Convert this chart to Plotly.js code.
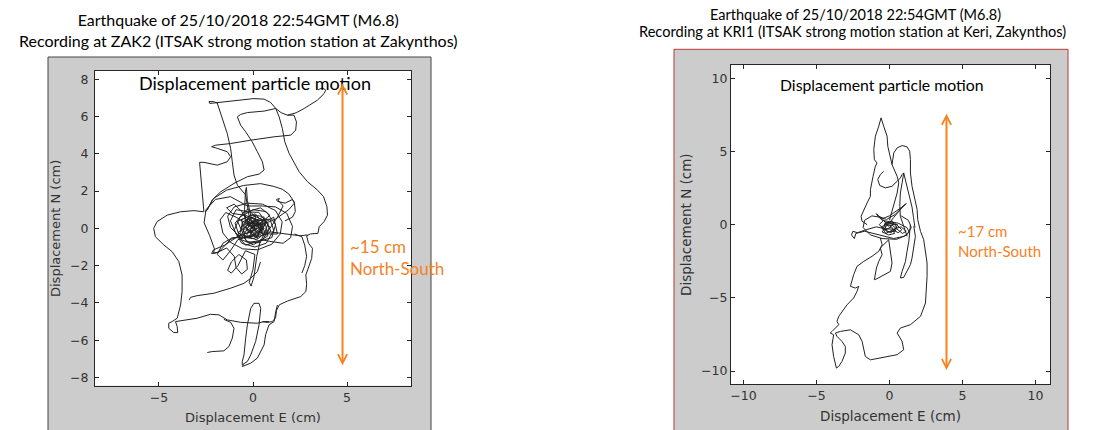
<!DOCTYPE html>
<html><head><meta charset="utf-8">
<script src="https://cdn.plot.ly/plotly-3.0.1.min.js"></script>
<style>html,body{margin:0;padding:0;background:#fff}#chart{width:1101px;height:430px}</style>
</head><body><div id="chart"></div>
<script>
// ---------- Titles / labels ----------
const leftTitle1 = "Earthquake of 25/10/2018 22:54GMT (M6.8)";
const leftTitle2 = "Recording at ZAK2 (ITSAK strong motion station at Zakynthos)";
const rightTitle1 = "Earthquake of 25/10/2018 22:54GMT (M6.8)";
const rightTitle2 = "Recording at KRI1 (ITSAK strong motion station at Keri, Zakynthos)";
const innerLabel = "Displacement particle motion";
const xLabel = "Displacement E (cm)";
const yLabel = "Displacement N (cm)";
const zakSpanText = ["~15 cm", "North-South"];
const kriSpanText = ["~17 cm", "North-South"];

// ---------- Ticks ----------
const zakXTicks = [-5, 0, 5];
const zakYTicks = [-8, -6, -4, -2, 0, 2, 4, 6, 8];
const kriXTicks = [-10, -5, 0, 5, 10];
const kriYTicks = [-10, -5, 0, 5, 10];

// ---------- North-South span arrows (E, N_top, N_bottom) ----------
const zakArrow = [4.76, 7.77, -7.42];
const kriArrow = [3.91, 7.57, -10.03];

// ---------- ZAK2 displacement path strokes [E, N] (cm) ----------
const zakCore = [[0.0,0.0],[0.35,0.42],[-0.18,0.62],[-0.52,0.12],[0.22,-0.41],[0.63,0.18],[0.12,0.78],[-0.61,0.47],[-0.43,-0.52],[0.41,-0.33],[0.72,0.51],[-0.08,0.31],[-0.79,-0.21],[-0.22,-0.76],[0.52,-0.62],[0.88,0.08],[0.31,0.86],[-0.47,0.88],[-0.95,0.28],[-0.68,-0.58],[0.02,-0.88],[0.79,-0.41],[0.58,0.62],[-0.31,0.22],[0.18,-0.19],[-0.12,0.48],[0.42,0.09],[-0.33,-0.29],[0.09,0.21],[0.49,-0.12],[-0.58,0.79],[-0.25,1.05],[0.15,0.55],[-0.38,-0.08],[0.28,-0.55],[0.66,-0.21],[0.25,0.33],[-0.21,-0.45],[-0.65,0.02],[-0.15,0.72],[0.45,0.65],[0.81,0.25],[0.38,-0.78],[-0.35,-0.71],[-0.82,0.38],[-0.44,0.55],[0.05,0.12],[0.55,0.38],[0.2,-0.62],[-0.5,-0.35],[-0.05,0.38],[0.35,0.05],[-0.15,-0.15],[0.12,0.45],[0.6,-0.45],[0.95,-0.15],[0.7,0.35],[0.1,0.65],[-0.55,0.35],[-0.7,-0.3],[-0.25,-0.5],[0.3,-0.25],[0.45,0.3],[-0.1,0.1]];
const zakCore2 = [[0.2,0.1],[0.9,0.7],[0.4,1.1],[-0.3,0.9],[-0.9,1.0],[-1.2,0.4],[-0.9,-0.3],[-0.4,-0.9],[0.3,-0.7],[1.0,-0.5],[1.2,0.2],[0.7,0.9],[0.0,1.0],[-0.7,0.6],[-1.0,-0.1],[-0.6,-0.8],[0.1,-1.0],[0.7,-0.8],[1.1,-0.1],[0.9,0.5],[0.3,0.4],[-0.4,0.7],[-1.1,0.8],[-1.4,1.1],[-1.0,1.3],[-0.6,0.9],[-0.2,0.2],[0.5,-0.3],[1.3,-0.3],[1.1,0.6],[0.6,0.3],[0.1,-0.3],[-0.5,-0.5],[-1.1,-0.5],[-1.6,-0.8],[-1.9,-1.4],[-1.6,-1.7],[-1.2,-1.2],[-0.8,-0.6],[-0.1,-0.4],[0.6,0.0],[0.25,0.25],[-0.3,-0.1],[0.15,-0.5],[0.55,0.15],[-0.05,0.55],[-0.45,0.15],[-0.1,-0.25],[0.3,0.2],[-0.2,0.35],[0.05,-0.1]];
const zakLoops = [[-0.1,0.1],[-0.9,0.6],[-1.45,0.85],[-1.75,0.45],[-1.6,-0.25],[-1.2,-0.75],[-0.55,-1.1],[0.25,-1.15],[1.0,-0.85],[1.45,-0.3],[1.55,0.35],[1.2,0.95],[0.5,1.3],[-0.3,1.35],[-1.0,1.15],[-1.35,0.65],[-1.2,0.05],[-0.7,-0.45],[0.0,-0.55],[0.7,-0.3],[1.3,0.6],[1.6,1.2],[1.35,1.5],[1.4,1.6],[1.25,1.55],[1.3,1.45],[1.7,1.35],[2.1,1.55],[2.2,1.35],[1.9,1.0],[1.2,0.5],[0.5,0.2],[-0.4,0.3],[-0.45,1.0],[-0.4,2.0],[-0.35,2.2],[-0.3,1.5],[-0.1,0.6],[-0.6,-0.3],[-1.5,-0.9],[-2.1,-1.15],[-2.2,-1.35],[-1.9,-1.3],[-1.4,-1.05],[-1.0,-1.5],[-0.9,-2.1],[-0.6,-2.45],[-0.3,-2.2],[-0.35,-1.7],[-0.75,-1.4],[-1.15,-1.8],[-1.35,-2.25],[-1.15,-2.4],[-0.8,-2.0],[-0.4,-1.2],[0.1,-1.4],[0.0,-2.2],[-0.2,-2.9],[-0.1,-3.1],[0.05,-2.6],[0.2,-1.5],[0.4,-0.6],[0.9,-0.7],[1.6,-0.8],[2.0,-0.5],[2.1,0.1],[1.8,0.8],[1.2,1.15],[0.5,1.2],[-0.3,1.2],[-1.2,1.7],[-2.0,1.55],[-2.5,1.0],[-2.6,0.3],[-2.3,-0.4],[-2.05,-1.1],[-2.1,-1.35],[-1.8,-1.25],[-1.2,-0.6],[-0.2,-0.2],[1.0,-0.2],[1.8,-0.3],[2.5,-0.4],[2.9,-0.35]];
const zakRing = [[-2.5,0.9],[-2.1,1.6],[-1.4,2.05],[-0.5,2.3],[0.4,2.4],[1.1,2.25],[1.55,2.1],[1.9,1.85],[2.2,1.4],[2.25,0.9],[2.1,0.6],[1.7,0.4]];
const zakTop = [[-0.2,0.6],[-0.39,1.79],[-0.83,2.32],[-1.01,2.86],[-1.10,3.57],[-1.19,4.29],[-1.37,5.09],[-1.63,5.89],[-1.81,6.52],[-1.90,6.72],[-2.10,6.80],[-2.34,6.80],[-2.30,6.70],[-2.00,6.73],[-1.37,6.79],[-0.66,6.88],[0.05,6.96],[0.59,6.93],[0.94,6.75],[1.21,6.43],[1.50,6.20],[1.83,6.07],[2.30,6.20],[2.72,6.43],[3.10,6.65],[3.43,6.88],[3.78,7.23],[3.87,7.41],[3.69,7.54],[3.46,7.43]];
const zakRight = [[1.21,6.43],[1.39,5.98],[1.56,5.36],[1.69,4.64],[1.92,4.02],[2.18,3.57],[2.45,3.04],[2.90,2.50],[3.43,2.05],[3.75,1.70],[3.93,1.16],[3.96,0.71],[3.78,0.36],[3.52,0.09],[3.45,-0.27],[3.05,-0.30],[2.85,-0.40],[2.95,-0.80],[3.16,-1.07],[3.12,-1.61],[2.95,-2.10],[2.81,-2.50],[2.85,-3.00],[2.81,-3.39],[2.54,-3.66],[2.10,-3.80],[1.83,-3.90],[1.40,-4.10],[1.25,-4.40],[1.20,-4.80],[1.03,-5.00],[0.76,-5.05],[0.50,-5.00]];
const zakRight2 = [[2.2,-0.3],[2.6,-0.45],[2.75,-0.9],[2.85,-1.5],[2.75,-2.0],[2.6,-2.4]];
const zakLeft = [[-2.61,0.89],[-3.14,0.95],[-3.85,0.89],[-4.56,0.71],[-5.10,0.36],[-5.28,0.00],[-5.19,-0.45],[-4.74,-0.89],[-4.30,-1.25],[-3.94,-1.79],[-3.77,-2.50],[-3.77,-3.39],[-3.85,-4.11],[-4.03,-4.82],[-4.30,-5.00],[-4.48,-5.09],[-4.48,-5.36],[-4.21,-5.59],[-4.00,-5.59],[-4.03,-5.27],[-4.12,-5.00],[-3.85,-4.95],[-2.97,-4.82],[-2.26,-4.61],[-1.81,-4.64],[-1.37,-4.91],[-0.66,-5.04],[0.23,-5.09],[0.59,-5.00],[0.85,-5.00]];
const zakWedge = [[-1.55,-4.88],[-1.19,-5.04],[-1.01,-5.36],[-1.10,-5.89],[-1.28,-6.34],[-1.55,-6.57],[-2.17,-6.61],[-2.43,-6.66]];
const zakBottom = [[0.05,-4.02],[0.32,-4.02],[0.41,-4.29],[0.32,-5.18],[0.14,-6.07],[-0.12,-6.79],[-0.30,-7.14],[-0.57,-7.32],[-0.57,-7.14],[-0.48,-6.79],[-0.39,-5.89],[-0.30,-5.18],[-0.12,-4.29],[0.05,-4.02]];
const zakBottom2 = [[1.30,-4.11],[1.21,-4.46],[1.12,-5.00],[0.85,-5.18],[0.67,-5.71],[0.59,-6.25],[0.23,-6.96],[-0.12,-7.23],[-0.57,-7.41],[-0.50,-7.30]];
const zakMid = [[-3.40,-3.85],[-3.32,-3.70],[-2.97,-3.61],[-2.08,-3.48],[-1.19,-3.21],[-0.48,-2.95],[-0.12,-2.68],[0.23,-2.32],[0.40,-1.80]];
const zakS = [[1.83,6.07],[2.18,6.07],[2.31,5.71],[2.27,5.27],[2.01,5.00],[1.12,4.91],[-0.12,4.73],[-1.19,4.55],[-1.99,4.46],[-2.20,4.38],[-1.90,4.29],[-1.37,4.11],[-1.19,3.84],[-1.37,3.57],[-1.90,3.39],[-2.61,3.54],[-2.84,3.54],[-2.79,2.86],[-2.70,1.79],[-2.61,0.89]];
const zakPi = [[1.21,6.43],[0.59,6.29],[-0.30,6.21],[-0.66,6.11],[-0.83,5.98],[-0.66,5.54],[-0.39,5.18],[-0.04,4.64],[0.23,4.11],[0.50,3.57],[0.59,3.13],[0.32,2.91],[-0.30,2.77],[-1.01,2.41],[-1.72,1.96],[-2.17,1.52],[-2.43,0.98]];
const zakStrokes = [zakCore, zakCore2, zakLoops, zakRing, zakTop, zakRight, zakRight2, zakLeft, zakWedge, zakBottom, zakBottom2, zakMid, zakS, zakPi];

// ---------- KRI1 displacement path strokes [E, N] (cm) ----------
const kriCore = [[0.0,-0.2],[0.3,0.1],[-0.2,0.15],[-0.45,-0.3],[0.1,-0.55],[0.5,-0.2],[0.2,0.25],[-0.35,0.05],[-0.15,-0.5],[0.4,-0.45],[0.55,0.0],[-0.05,0.1],[-0.55,-0.15],[-0.25,-0.6],[0.25,-0.35],[0.6,-0.55],[0.85,-0.35],[0.45,0.05],[-0.1,-0.1],[-0.4,0.3],[-0.7,0.0],[-0.3,-0.35],[0.15,-0.15],[0.35,-0.6],[-0.05,-0.7],[-0.5,-0.5],[-0.15,0.0],[0.2,-0.05],[0.9,-0.6],[1.15,-0.45],[0.8,-0.15],[0.3,-0.3],[-0.2,-0.3]];
const kriLoops = [[-0.2,-0.3],[-0.9,-0.15],[-1.6,-0.35],[-2.2,-0.55],[-2.5,-0.45],[-2.6,-0.7],[-2.4,-0.95],[-2.3,-0.6],[-1.7,-0.45],[-1.1,-0.6],[-0.5,-0.8],[0.3,-0.95],[1.0,-0.8],[1.35,-0.5],[1.2,-0.2],[0.6,0.1],[0.0,0.2],[-0.5,0.3],[-0.8,0.6],[-0.9,0.75],[-0.7,0.55],[-0.2,0.35],[0.4,0.7],[1.1,1.35],[1.15,1.45],[0.9,1.2],[0.3,0.5],[-0.1,0.0],[-0.6,0.5],[-1.2,0.6],[-1.7,0.3],[-1.8,-0.2],[-1.3,-0.7],[-0.5,-0.95],[0.5,-1.0],[1.2,-0.7],[1.5,-0.2],[1.3,0.3],[0.8,0.6]];
const kriSpike = [[-1.53,0.00],[-1.87,0.23],[-1.94,0.57],[-1.76,1.03],[-1.53,1.48],[-1.30,1.94],[-1.30,2.39],[-1.12,3.30],[-0.96,3.99],[-0.85,4.21],[-1.03,4.44],[-1.07,5.13],[-0.96,6.04],[-0.73,6.72],[-0.57,7.29],[-0.39,6.72],[-0.16,6.04],[-0.11,5.35],[0.07,4.67],[0.18,4.10],[0.53,3.30],[0.64,2.85],[0.53,2.16],[0.41,1.71],[0.20,1.00],[0.00,0.30]];
const kriOuter = [[0.18,4.10],[0.25,4.50],[0.30,4.90],[0.53,5.24],[0.87,5.40],[1.21,5.31],[1.39,5.01],[1.44,4.44],[1.44,3.53],[1.55,2.62],[1.78,1.71],[1.90,1.03],[1.94,0.34],[2.13,-0.46],[2.35,-1.03],[2.47,-1.71],[2.58,-2.62],[2.58,-3.53],[2.54,-4.44],[2.47,-5.35],[2.13,-6.26],[1.44,-6.83],[0.75,-7.06],[0.53,-7.40],[0.87,-7.97],[0.98,-8.54],[0.53,-8.88],[-0.16,-9.00],[-0.85,-9.11],[-1.30,-9.23],[-1.65,-9.00],[-1.76,-8.43],[-1.87,-7.97],[-2.10,-7.52],[-2.67,-7.18],[-3.36,-7.29]];
const kriLeft = [[-0.62,-0.91],[-0.50,-1.37],[-0.73,-1.82],[-1.19,-2.16],[-1.76,-2.51],[-2.22,-2.85],[-2.45,-3.42],[-2.56,-3.87],[-2.67,-4.21],[-2.33,-4.33],[-2.10,-4.21],[-2.22,-4.56],[-2.45,-5.01],[-2.90,-5.47],[-3.25,-5.92],[-3.47,-6.26],[-3.59,-6.61],[-3.47,-6.83],[-3.93,-7.29],[-4.05,-7.40],[-3.82,-7.52],[-3.93,-8.20],[-3.82,-9.00],[-3.63,-9.79],[-3.47,-9.68],[-3.25,-9.34],[-3.02,-8.77],[-3.02,-8.31],[-3.25,-7.97],[-3.59,-7.63],[-3.70,-7.40],[-3.36,-7.29]];
const kriHook = [[-0.39,3.64],[-0.62,3.42],[-0.80,3.08],[-0.66,2.67],[-0.27,2.51],[0.18,2.62],[0.53,2.96],[0.75,3.19],[0.87,3.42],[0.98,3.53],[0.87,2.85],[0.75,2.16],[0.71,1.25],[0.75,0.57],[0.98,-0.11],[1.21,-0.80]];
const kriV = [[0.98,3.53],[1.15,2.80],[1.35,2.00],[1.55,1.20],[1.65,0.50],[1.75,-0.20]];
const kriDiag = [[1.10,1.37],[0.60,1.00],[0.00,0.60],[-0.50,0.40],[-0.85,0.68]];
const kriNarrow = [[1.44,0.00],[1.33,-1.14],[1.21,-1.82],[1.10,-2.51],[0.87,-3.19],[0.75,-3.64],[0.98,-3.60],[1.21,-3.19],[1.44,-2.73],[1.55,-2.28],[1.67,-1.59],[1.78,-0.80],[1.67,-0.11]];
const kriInner = [[-0.05,-1.03],[-0.62,-1.59],[-0.50,-2.05],[-0.73,-2.51],[-0.89,-2.96],[-0.96,-3.42],[-1.03,-3.76],[-0.85,-3.69],[-0.39,-3.42],[0.07,-3.19],[0.18,-2.62],[0.07,-1.71],[-0.05,-1.03]];
const kriStrokes = [kriCore, kriLoops, kriSpike, kriOuter, kriLeft, kriHook, kriV, kriDiag, kriNarrow, kriInner];

// ---------- build ----------
function joinStrokes(strokes) {
  const x = [], y = [];
  strokes.forEach((s, i) => {
    if (i > 0) { x.push(null); y.push(null); }
    s.forEach(p => { x.push(p[0]); y.push(p[1]); });
  });
  return {x, y};
}
const zak = joinStrokes(zakStrokes);
const kri = joinStrokes(kriStrokes);

const W = 1101, H = 430;
const fx = v => v / W, fy = v => 1 - v / H;
const lineCol = '#262626';
const orange = '#f5821f';
const calib = 'Lato, "Open Sans", sans-serif';
const axFont = '"DejaVu Sans", "Liberation Sans", Arial, sans-serif';

const traces = [
  {x: zak.x, y: zak.y, xaxis: 'x', yaxis: 'y', mode: 'lines', connectgaps: false,
   line: {color: '#222222', width: 1}, hoverinfo: 'skip', showlegend: false},
  {x: kri.x, y: kri.y, xaxis: 'x2', yaxis: 'y2', mode: 'lines', connectgaps: false,
   line: {color: '#222222', width: 1}, hoverinfo: 'skip', showlegend: false}
];

function axisStyle(extra) {
  return Object.assign({
    showline: true, linecolor: lineCol, linewidth: 1, mirror: 'ticks',
    ticks: 'inside', ticklen: 4, tickcolor: lineCol, tickwidth: 1,
    showgrid: false, zeroline: false, tickmode: 'array',
    tickfont: {family: axFont, size: 12.5, color: '#333333'},
    fixedrange: true
  }, extra);
}

const layout = {
  width: W, height: H, margin: {l: 0, r: 0, t: 0, b: 0},
  paper_bgcolor: '#ffffff', plot_bgcolor: '#ffffff', showlegend: false,
  xaxis: axisStyle({domain: [fx(95), fx(411)], range: [-8.4, 8.4], anchor: 'y', tickvals: zakXTicks,
    title: {text: xLabel, font: {family: axFont, size: 13, color: '#333333'}, standoff: 9}}),
  yaxis: axisStyle({domain: [fy(385.7), fy(71)], range: [-8.44, 8.44], anchor: 'x', tickvals: zakYTicks,
    ticklabelstandoff: 3,
    title: {text: yLabel, font: {family: axFont, size: 13, color: '#333333'}, standoff: 6}}),
  xaxis2: axisStyle({domain: [fx(731), fx(1050)], range: [-10.85, 11.0], anchor: 'y2', tickvals: kriXTicks,
    title: {text: xLabel, font: {family: axFont, size: 13.5, color: '#333333'}, standoff: 9}}),
  yaxis2: axisStyle({domain: [fy(384.3), fy(65)], range: [-10.9, 10.9], anchor: 'x2', tickvals: kriYTicks,
    title: {text: yLabel, font: {family: axFont, size: 13.5, color: '#333333'}, standoff: 6}}),
  shapes: [
    {type: 'rect', xref: 'paper', yref: 'paper', x0: fx(48), x1: fx(431), y0: fy(445), y1: fy(57),
     fillcolor: '#cccccc', line: {color: '#444444', width: 1}, layer: 'below'},
    {type: 'rect', xref: 'paper', yref: 'paper', x0: fx(95), x1: fx(411), y0: fy(385.7), y1: fy(71),
     fillcolor: '#ffffff', line: {width: 0}, layer: 'below'},
    {type: 'rect', xref: 'paper', yref: 'paper', x0: fx(674), x1: fx(1068), y0: fy(445), y1: fy(49.3),
     fillcolor: '#cccccc', line: {color: '#b83a2e', width: 1}, layer: 'below'},
    {type: 'rect', xref: 'paper', yref: 'paper', x0: fx(731), x1: fx(1050), y0: fy(384.3), y1: fy(65),
     fillcolor: '#ffffff', line: {width: 0}, layer: 'below'}
  ],
  annotations: [
    {xref: 'paper', yref: 'paper', x: fx(238.5), y: fy(30.4), text: leftTitle1 + '<br>' + leftTitle2, showarrow: false,
     xanchor: 'center', yanchor: 'middle', align: 'center', font: {family: calib, size: 16, color: '#000'}},
    {xref: 'paper', yref: 'paper', x: fx(855), y: fy(15), text: rightTitle1, showarrow: false,
     xanchor: 'center', yanchor: 'middle', font: {family: calib, size: 14.5, color: '#000'}},
    {xref: 'paper', yref: 'paper', x: fx(852), y: fy(31.7), text: rightTitle2, showarrow: false,
     xanchor: 'center', yanchor: 'middle', font: {family: calib, size: 14.6, color: '#000'}},
    {xref: 'paper', yref: 'paper', x: fx(254.5), y: fy(83), text: innerLabel, showarrow: false,
     xanchor: 'center', yanchor: 'middle', font: {family: calib, size: 18, color: '#000'}},
    {xref: 'paper', yref: 'paper', x: fx(882), y: fy(84.3), text: innerLabel, showarrow: false,
     xanchor: 'center', yanchor: 'middle', font: {family: calib, size: 15.8, color: '#000'}},
    {xref: 'x', yref: 'y', axref: 'x', ayref: 'y', x: zakArrow[0], y: zakArrow[1], ax: zakArrow[0], ay: zakArrow[2],
     text: '', showarrow: true, arrowside: 'end+start', arrowhead: 5, startarrowhead: 5,
     arrowsize: 0.9, startarrowsize: 0.9, arrowwidth: 2, arrowcolor: orange, standoff: 0, startstandoff: 0},
    {xref: 'x2', yref: 'y2', axref: 'x2', ayref: 'y2', x: kriArrow[0], y: kriArrow[1], ax: kriArrow[0], ay: kriArrow[2],
     text: '', showarrow: true, arrowside: 'end+start', arrowhead: 5, startarrowhead: 5,
     arrowsize: 0.9, startarrowsize: 0.9, arrowwidth: 2, arrowcolor: orange, standoff: 0, startstandoff: 0},
    {xref: 'x', yref: 'y', x: 5.04, y: -0.99, text: zakSpanText[0], showarrow: false,
     xanchor: 'left', yanchor: 'middle', font: {family: calib, size: 17, color: orange}},
    {xref: 'x', yref: 'y', x: 5.04, y: -2.13, text: zakSpanText[1], showarrow: false,
     xanchor: 'left', yanchor: 'middle', font: {family: calib, size: 17, color: orange}},
    {xref: 'x2', yref: 'y2', x: 4.55, y: -0.46, text: kriSpanText[0], showarrow: false,
     xanchor: 'left', yanchor: 'middle', font: {family: calib, size: 15, color: orange}},
    {xref: 'x2', yref: 'y2', x: 4.55, y: -1.83, text: kriSpanText[1], showarrow: false,
     xanchor: 'left', yanchor: 'middle', font: {family: calib, size: 15, color: orange}}
  ]
};

Plotly.newPlot('chart', traces, layout, {staticPlot: true, displayModeBar: false});
</script></body></html>
